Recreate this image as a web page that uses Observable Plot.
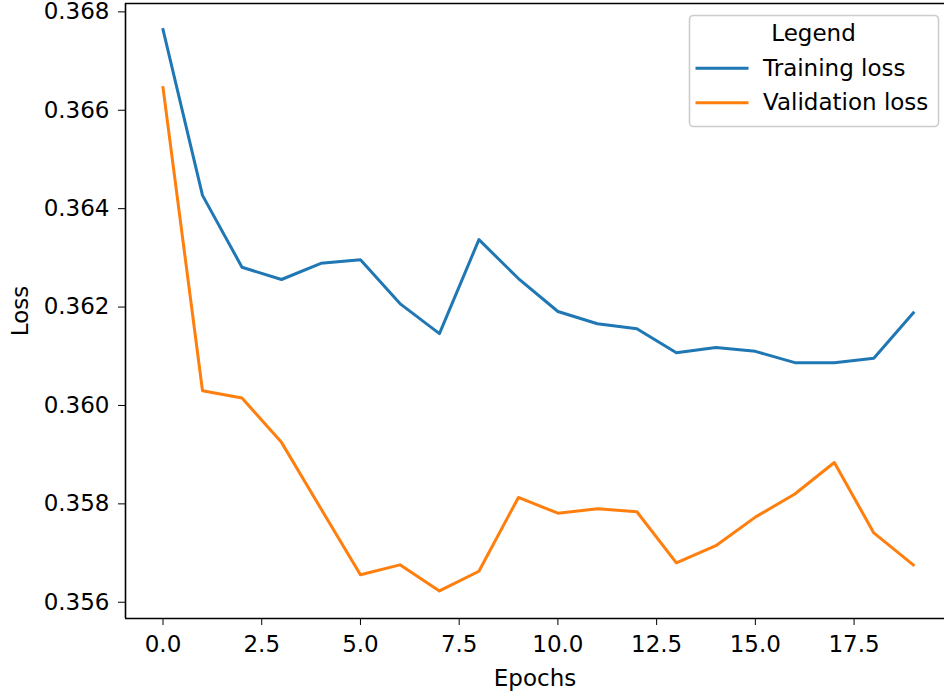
<!DOCTYPE html>
<html>
<head>
<meta charset="utf-8">
<script src="https://cdn.jsdelivr.net/npm/d3@7"></script>
<script src="https://cdn.jsdelivr.net/npm/@observablehq/plot@0.6"></script>
<style>
  html, body { margin: 0; padding: 0; background: white; }
  #wrap { position: relative; width: 944px; height: 693px; overflow: hidden; }
  #legend { position: absolute; left: 0; top: 0; pointer-events: none; }
</style>
</head>
<body>
<div id="wrap"></div>
<script>
// ---- data ----
const epochs = [0,1,2,3,4,5,6,7,8,9,10,11,12,13,14,15,16,17,18,19];
const trainingLoss = [0.36764,0.36427,0.36281,0.36256,0.36289,0.36296,0.36207,0.36146,0.36337,0.36258,
                      0.36191,0.36166,0.36156,0.36107,0.36118,0.36110,0.36087,0.36087,0.36096,0.36188];
const validationLoss = [0.36646,0.36030,0.36015,0.35925,0.35790,0.35656,0.35676,0.35623,0.35663,0.35813,
                        0.35781,0.35790,0.35784,0.35680,0.35715,0.35773,0.35820,0.35884,0.35741,0.35676];
const seriesNames = ["Training loss", "Validation loss"];
const seriesColors = ["#1f77b4", "#ff7f0e"];
const xTicks = [0, 2.5, 5, 7.5, 10, 12.5, 15, 17.5];
const yTicks = [0.356, 0.358, 0.360, 0.362, 0.364, 0.366, 0.368];
const xDomain = [-0.95, 19.79];
const yDomain = [0.35567, 0.36817];
const legendTitle = "Legend";
const xLabel = "Epochs";
const yLabel = "Loss";

const rows = [];
epochs.forEach((e, i) => {
  rows.push({epoch: e, loss: trainingLoss[i], series: seriesNames[0]});
  rows.push({epoch: e, loss: validationLoss[i], series: seriesNames[1]});
});

const W = 944, H = 693;
const font = "DejaVu Sans";
const fs = "23px";

const chart = Plot.plot({
  width: W, height: H,
  marginLeft: 125, marginRight: 0, marginTop: 3, marginBottom: 75,
  style: {fontFamily: font, fontSize: fs, color: "#000", background: "white", overflow: "visible"},
  x: {domain: xDomain, ticks: xTicks, tickFormat: d3.format(".1f"), tickSize: 7, tickPadding: 10,
      label: xLabel, labelAnchor: "center", labelOffset: 67, labelArrow: "none"},
  y: {domain: yDomain, ticks: yTicks, tickFormat: d3.format(".3f"), tickSize: 7, tickPadding: 9,
      label: yLabel, labelAnchor: "center", labelOffset: 114, labelArrow: "none"},
  color: {domain: seriesNames, range: seriesColors},
  marks: [
    Plot.line(rows, {x: "epoch", y: "loss", stroke: "series", strokeWidth: 3,
                     strokeLinejoin: "round", strokeLinecap: "square"}),
    Plot.ruleX([xDomain[0]], {stroke: "#000", strokeWidth: 1.6}),
    Plot.ruleY([yDomain[0]], {stroke: "#000", strokeWidth: 1.6}),
    Plot.ruleY([yDomain[1]], {stroke: "#000", strokeWidth: 1.6})
  ]
});
document.getElementById("wrap").appendChild(chart);

// ---- legend overlay ----
const svg = d3.select("#wrap").append("svg")
  .attr("id", "legend").attr("width", W).attr("height", H)
  .style("font-family", font).style("font-size", fs);
const lx = 689.5, ly = 15.5, lw = 249, lh = 111;
svg.append("rect").attr("x", lx).attr("y", ly).attr("width", lw).attr("height", lh)
  .attr("rx", 4).attr("fill", "white").attr("fill-opacity", 0.8)
  .attr("stroke", "#cccccc").attr("stroke-width", 1.6);
svg.append("text").attr("x", 813.5).attr("y", 41).attr("text-anchor", "middle")
  .attr("fill", "#000").text(legendTitle);
seriesNames.forEach((name, i) => {
  const yLine = 68.3 + i * 34.4;
  svg.append("line").attr("x1", 697).attr("x2", 747).attr("y1", yLine).attr("y2", yLine)
    .attr("stroke", seriesColors[i]).attr("stroke-width", 3).attr("stroke-linecap", "square");
  svg.append("text").attr("x", 763).attr("y", yLine + 7.5).attr("fill", "#000").text(name);
});
</script>
</body>
</html>
